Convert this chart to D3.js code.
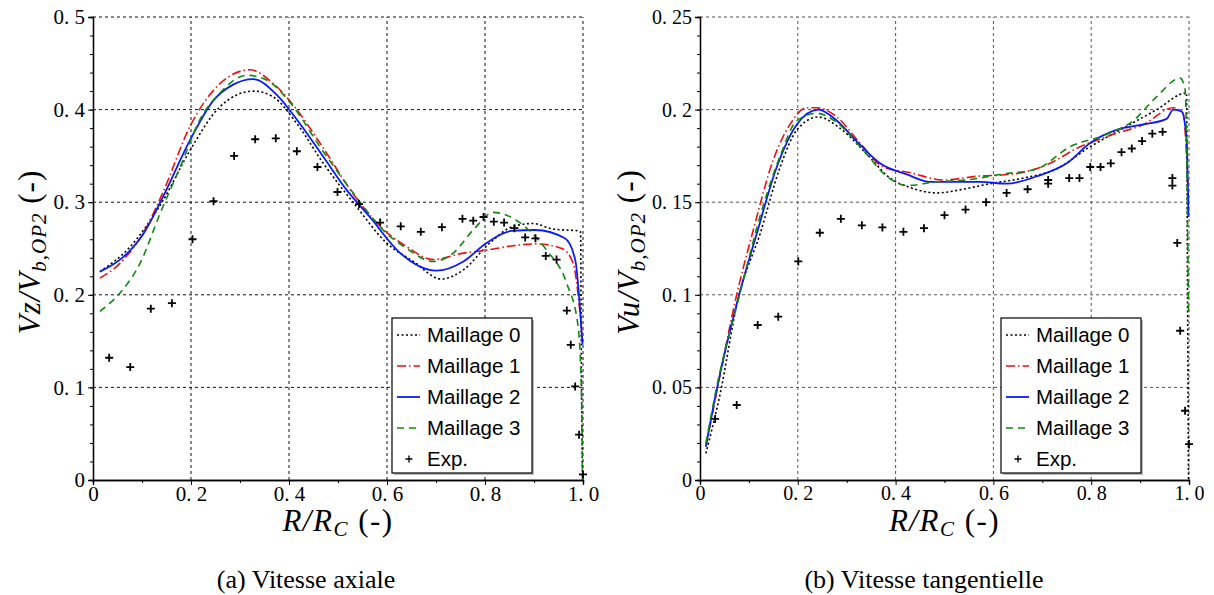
<!DOCTYPE html>
<html>
<head>
<meta charset="utf-8">
<script src="https://cdn.jsdelivr.net/npm/d3@7"></script>
<style>
  body { margin: 0; background: #fff; }
  text { fill: #000; }
</style>
</head>
<body>
<svg id="chart" width="1214" height="595"></svg>
<script>
// ---- data: (a) axial velocity, [R/Rc, Vz/Vb]
var axialM0 = [[0.014,0.225],[0.076,0.252],[0.143,0.302],[0.198,0.356],[0.259,0.403],[0.327,0.420],[0.367,0.414],[0.416,0.385],[0.470,0.342],[0.538,0.295],[0.599,0.256],[0.654,0.236],[0.711,0.217],[0.756,0.227],[0.810,0.256],[0.858,0.274],[0.898,0.277],[0.939,0.271],[0.990,0.269],[0.995,0.268],[0.997,0.10],[0.999,0.0]];
var axialM1 = [[0.014,0.218],[0.055,0.234],[0.110,0.274],[0.143,0.311],[0.198,0.382],[0.259,0.428],[0.320,0.443],[0.368,0.428],[0.416,0.400],[0.463,0.364],[0.538,0.304],[0.586,0.274],[0.640,0.252],[0.694,0.238],[0.756,0.245],[0.800,0.248],[0.858,0.253],[0.905,0.255],[0.957,0.250],[0.980,0.234],[0.992,0.190],[0.999,0.150]];
var axialM2 = [[0.014,0.225],[0.062,0.241],[0.103,0.266],[0.143,0.306],[0.198,0.367],[0.246,0.410],[0.286,0.427],[0.327,0.433],[0.375,0.416],[0.422,0.385],[0.470,0.349],[0.518,0.313],[0.565,0.284],[0.627,0.245],[0.701,0.226],[0.756,0.236],[0.803,0.256],[0.854,0.269],[0.902,0.270],[0.963,0.261],[0.984,0.238],[0.999,0.146]];
var axialM3 = [[0.014,0.182],[0.055,0.202],[0.096,0.234],[0.137,0.288],[0.178,0.338],[0.218,0.389],[0.259,0.418],[0.314,0.437],[0.354,0.432],[0.409,0.403],[0.463,0.360],[0.531,0.310],[0.592,0.270],[0.640,0.250],[0.694,0.236],[0.735,0.245],[0.776,0.270],[0.817,0.289],[0.844,0.286],[0.885,0.272],[0.926,0.248],[0.967,0.212],[0.990,0.166],[0.997,0.090],[0.999,0.0]];
var axialExp = [[0.033,0.132],[0.076,0.122],[0.118,0.185],[0.161,0.191],[0.203,0.260],[0.246,0.301],[0.288,0.350],[0.331,0.368],[0.373,0.369],[0.416,0.355],[0.458,0.338],[0.499,0.311],[0.543,0.298],[0.586,0.278],[0.628,0.274],[0.669,0.268],[0.712,0.273],[0.754,0.282],[0.776,0.280],[0.797,0.284],[0.818,0.279],[0.839,0.278],[0.860,0.272],[0.882,0.262],[0.903,0.261],[0.924,0.242],[0.946,0.238],[0.967,0.183],[0.975,0.146],[0.984,0.101],[0.992,0.049],[1.0,0.006]];

// ---- data: (b) tangential velocity, [R/Rc, Vu/Vb]
var tangM0 = [[0.012,0.0144],[0.040,0.045],[0.078,0.098],[0.123,0.133],[0.164,0.169],[0.198,0.189],[0.242,0.196],[0.286,0.190],[0.341,0.176],[0.389,0.163],[0.429,0.158],[0.484,0.155],[0.538,0.157],[0.593,0.160],[0.661,0.163],[0.729,0.168],[0.798,0.180],[0.866,0.190],[0.934,0.200],[0.995,0.209],[0.997,0.10],[0.999,0.0]];
var tangM1 = [[0.012,0.018],[0.036,0.050],[0.075,0.100],[0.109,0.135],[0.150,0.173],[0.184,0.192],[0.218,0.201],[0.239,0.201],[0.280,0.196],[0.327,0.182],[0.375,0.169],[0.429,0.166],[0.498,0.162],[0.566,0.164],[0.634,0.165],[0.716,0.171],[0.770,0.179],[0.838,0.186],[0.907,0.192],[0.968,0.201],[0.988,0.198],[0.999,0.150]];
var tangM2 = [[0.012,0.018],[0.034,0.0486],[0.078,0.098],[0.116,0.133],[0.157,0.169],[0.198,0.192],[0.242,0.200],[0.280,0.194],[0.320,0.183],[0.368,0.171],[0.423,0.165],[0.470,0.161],[0.525,0.161],[0.573,0.161],[0.627,0.160],[0.689,0.164],[0.750,0.171],[0.798,0.182],[0.852,0.189],[0.907,0.192],[0.954,0.195],[0.968,0.200],[0.985,0.199],[0.995,0.184],[0.999,0.142]];
var tangM3 = [[0.012,0.0198],[0.034,0.050],[0.082,0.101],[0.129,0.148],[0.164,0.175],[0.198,0.194],[0.239,0.198],[0.280,0.193],[0.334,0.178],[0.382,0.164],[0.423,0.159],[0.484,0.161],[0.545,0.162],[0.613,0.165],[0.689,0.168],[0.757,0.180],[0.825,0.186],[0.886,0.194],[0.934,0.207],[0.982,0.217],[0.992,0.211],[0.999,0.090]];
var tangExp = [[0.031,0.033],[0.075,0.0405],[0.118,0.0837],[0.160,0.0882],[0.201,0.118],[0.245,0.1335],[0.288,0.141],[0.331,0.1375],[0.373,0.1364],[0.416,0.134],[0.458,0.136],[0.500,0.143],[0.543,0.146],[0.585,0.150],[0.627,0.155],[0.670,0.157],[0.712,0.162],[0.712,0.160],[0.755,0.163],[0.776,0.163],[0.798,0.169],[0.819,0.169],[0.840,0.171],[0.862,0.177],[0.883,0.179],[0.904,0.183],[0.925,0.187],[0.946,0.188],[0.966,0.163],[0.966,0.159],[0.976,0.128],[0.982,0.0806],[0.992,0.0374],[1.0,0.0194]];

// ---- ticks and labels
var xTicks = [0, 0.2, 0.4, 0.6, 0.8, 1.0];
var xTickLabels = ['0', '0.2', '0.4', '0.6', '0.8', '1.0'];
var axialYTicks = [0, 0.1, 0.2, 0.3, 0.4, 0.5];
var axialYTickLabels = ['0', '0.1', '0.2', '0.3', '0.4', '0.5'];
var tangYTicks = [0, 0.05, 0.1, 0.15, 0.2, 0.25];
var tangYTickLabels = ['0', '0.05', '0.1', '0.15', '0.2', '0.25'];
var legendNames = ['Maillage 0', 'Maillage 1', 'Maillage 2', 'Maillage 3', 'Exp.'];

var styles = [
    { color: '#000', width: 1.6, dash: '2,2.5' },
    { color: '#ee1111', width: 1.6, dash: '9,3,1.5,3' },
    { color: '#0a1aff', width: 1.8, dash: null },
    { color: '#118811', width: 1.6, dash: '7,5' }
];

var svg = d3.select('#chart');
var crossPath = 'M-4,0H4M0,-4V4';

function spaced(s) { return s.replace('.', '. '); }

function drawPanel(cfg) {
    var x = d3.scaleLinear().domain([0, 1]).range([cfg.left, cfg.right]);
    var y = d3.scaleLinear().domain([0, cfg.yMax]).range([480, 17]);
    var g = svg.append('g');

    // grid
    g.selectAll('.vgrid').data(xTicks.slice(1)).enter().append('line')
        .attr('x1', function(d) { return x(d); }).attr('x2', function(d) { return x(d); })
        .attr('y1', y(0)).attr('y2', y(cfg.yMax))
        .attr('stroke', cfg.gridColor).attr('stroke-width', 1).attr('stroke-dasharray', '3,3');
    g.selectAll('.hgrid').data(cfg.yTicks.slice(1)).enter().append('line')
        .attr('x1', x(0)).attr('x2', x(1))
        .attr('y1', function(d) { return y(d); }).attr('y2', function(d) { return y(d); })
        .attr('stroke', cfg.gridColor).attr('stroke-width', 1).attr('stroke-dasharray', '3,3');

    // axes
    var xAxis = d3.axisBottom(x).tickValues(xTicks).tickSize(5).tickPadding(1)
        .tickFormat(function(d, i) { return spaced(xTickLabels[i]); });
    var xMinor = d3.axisBottom(x).tickValues(d3.range(0.1, 1, 0.2)).tickSize(3).tickFormat('');
    var yAxis = d3.axisLeft(y).tickValues(cfg.yTicks).tickSize(5)
        .tickFormat(function(d, i) { return spaced(cfg.yTickLabels[i]); });
    var yMinor = d3.axisLeft(y).tickValues(d3.range(0, cfg.yMax + 1e-9, cfg.yMinorStep)).tickSize(3).tickFormat('');

    [xMinor, xAxis].forEach(function(ax) {
        var a = g.append('g').attr('transform', 'translate(0,' + y(0) + ')').call(ax);
        a.select('.domain').attr('stroke-width', 1.3);
    });
    [yMinor, yAxis].forEach(function(ax) {
        var a = g.append('g').attr('transform', 'translate(' + x(0) + ',0)').call(ax);
        a.select('.domain').attr('stroke-width', 1.3);
    });
    g.selectAll('.tick text')
        .style('font-family', '"Liberation Serif", "DejaVu Serif", serif')
        .style('font-size', cfg.tickFont + 'px');
    g.selectAll('.tick line').attr('stroke-width', 1);

    // curves
    var line = d3.line()
        .x(function(d) { return x(d[0]); })
        .y(function(d) { return y(d[1]); })
        .curve(d3.curveMonotoneX);
    cfg.series.forEach(function(s, i) {
        g.append('path').datum(s)
            .attr('fill', 'none')
            .attr('stroke', styles[i].color)
            .attr('stroke-width', styles[i].width)
            .attr('stroke-dasharray', styles[i].dash)
            .attr('d', line);
    });

    // experimental points
    g.selectAll('.exp').data(cfg.exp).enter().append('path')
        .attr('transform', function(d) { return 'translate(' + x(d[0]) + ',' + y(d[1]) + ')'; })
        .attr('d', crossPath)
        .attr('stroke', '#000').attr('stroke-width', 1.8).attr('fill', 'none');

    // legend
    var lx = cfg.legendX, ly = 318;
    var lg = g.append('g');
    lg.append('rect').attr('x', lx + 2).attr('y', ly + 2).attr('width', 140).attr('height', 155).attr('fill', '#bbb');
    lg.append('rect').attr('x', lx).attr('y', ly).attr('width', 140).attr('height', 155)
        .attr('fill', '#fff').attr('stroke', '#000').attr('stroke-width', 1.2);
    legendNames.forEach(function(name, i) {
        var yy = ly + 17 + i * 31;
        if (i < 4) {
            lg.append('line').attr('x1', lx + 5).attr('x2', lx + 28).attr('y1', yy).attr('y2', yy)
                .attr('stroke', styles[i].color).attr('stroke-width', styles[i].width)
                .attr('stroke-dasharray', styles[i].dash);
        } else {
            lg.append('path').attr('transform', 'translate(' + (lx + 17) + ',' + yy + ')')
                .attr('d', 'M-3.5,0H3.5M0,-3.5V3.5').attr('stroke', '#000').attr('stroke-width', 1.3);
        }
        lg.append('text').attr('x', lx + 35).attr('y', yy + 7)
            .style('font-family', '"Liberation Sans", Arial, sans-serif').style('font-size', '20.5px')
            .text(name);
    });

    // axis titles
    var xl = g.append('text').attr('x', (cfg.left + cfg.right) / 2).attr('y', 531)
        .attr('text-anchor', 'middle').style('letter-spacing', '1.5px')
        .style('font-family', '"Liberation Serif", "DejaVu Serif", serif').style('font-size', '31px');
    xl.append('tspan').style('font-style', 'italic').text('R/R');
    xl.append('tspan').style('font-style', 'italic').style('font-size', '21px').attr('dy', 5).text('C');
    xl.append('tspan').attr('dy', -5).text(' (-)');

    var yl = g.append('text')
        .attr('transform', 'translate(' + cfg.yLabelX + ',252) rotate(-90)')
        .attr('text-anchor', 'middle').style('letter-spacing', '1px')
        .style('font-family', '"Liberation Serif", "DejaVu Serif", serif').style('font-size', '31px');
    yl.append('tspan').style('font-style', 'italic').text(cfg.yVar + '/V');
    yl.append('tspan').style('font-style', 'italic').style('font-size', '21px').attr('dy', 6).text('b,OP2');
    yl.append('tspan').attr('dy', -6).text(' (-)');

    // caption
    svg.append('text').attr('x', cfg.captionX).attr('y', 588).attr('text-anchor', 'middle')
        .style('font-family', '"Liberation Serif", "Times New Roman", serif').style('font-size', '26px')
        .text(cfg.caption);
}

drawPanel({
    left: 93, right: 583, yMax: 0.5, yMinorStep: 0.02,
    yTicks: axialYTicks, yTickLabels: axialYTickLabels,
    series: [axialM0, axialM1, axialM2, axialM3], exp: axialExp,
    gridColor: '#111', tickFont: 21, legendX: 392, yLabelX: 40, yVar: 'Vz',
    captionX: 306, caption: '(a) Vitesse axiale'
});
drawPanel({
    left: 700, right: 1189, yMax: 0.25, yMinorStep: 0.01,
    yTicks: tangYTicks, yTickLabels: tangYTickLabels,
    series: [tangM0, tangM1, tangM2, tangM3], exp: tangExp,
    gridColor: '#555', tickFont: 20, legendX: 1001, yLabelX: 639, yVar: 'Vu',
    captionX: 924, caption: '(b) Vitesse tangentielle'
});
</script>
</body>
</html>
